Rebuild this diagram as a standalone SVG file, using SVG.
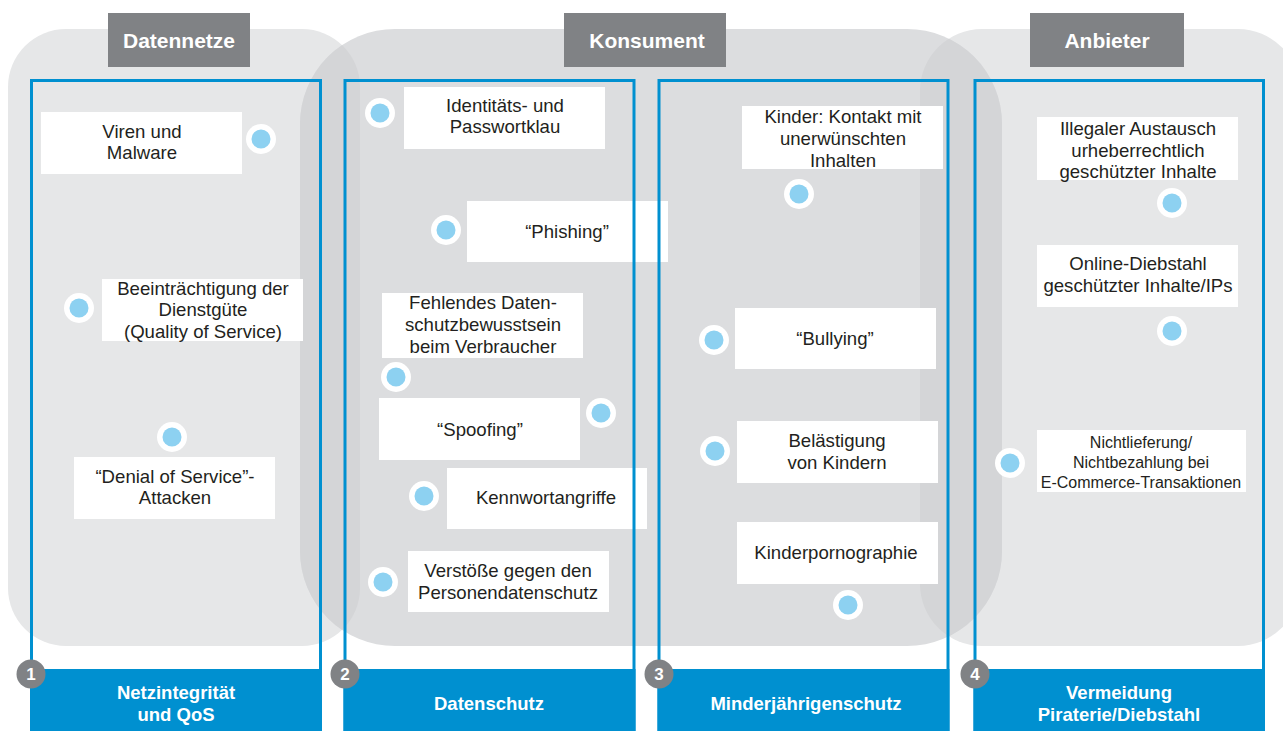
<svg xmlns="http://www.w3.org/2000/svg" width="1283" height="731" viewBox="0 0 1283 731">
<style>
.t{font-family:"Liberation Sans",Arial,sans-serif;font-size:18.6px;fill:#231f20;text-anchor:middle}
.ts{font-family:"Liberation Sans",Arial,sans-serif;font-size:16px;fill:#231f20;text-anchor:middle}
.h{font-family:"Liberation Sans",Arial,sans-serif;font-size:21px;font-weight:bold;fill:#ffffff;text-anchor:middle}
.b{font-family:"Liberation Sans",Arial,sans-serif;font-size:18.5px;font-weight:bold;fill:#ffffff;text-anchor:middle}
.n{font-family:"Liberation Sans",Arial,sans-serif;font-size:17px;font-weight:bold;fill:#ffffff;text-anchor:middle}
.box{fill:#ffffff}
.frame{fill:none;stroke:#0090d0;stroke-width:3}
.band{fill:#0090d0}
.hdr{fill:#808285}
.num{fill:#808285}
</style>
<defs>
<rect id="shapeD" x="8" y="29" width="352" height="617" rx="58" ry="58"/>
<rect id="shapeK" x="300" y="29" width="702" height="617" rx="95" ry="95"/>
<rect id="shapeA" x="920" y="29" width="380" height="617" rx="62" ry="62"/>
<clipPath id="clipD"><use href="#shapeD"/></clipPath>
<clipPath id="clipA"><use href="#shapeA"/></clipPath>
<g id="dot"><circle r="15" fill="#ffffff"/><circle r="9.5" fill="#8dd1f1"/></g>
</defs>

<g id="background">
<use href="#shapeD" fill="#e6e7e8"/>
<use href="#shapeA" fill="#e6e7e8"/>
<use href="#shapeK" fill="#dcdddf"/>
<use href="#shapeK" fill="#d4d5d7" clip-path="url(#clipD)"/>
<use href="#shapeK" fill="#d4d5d7" clip-path="url(#clipA)"/>
</g>

<g id="headers">
<g id="hdr-datennetze"><rect class="hdr" x="108" y="13" width="142" height="54"/><text class="h" x="179" y="47.5">Datennetze</text></g>
<g id="hdr-konsument"><rect class="hdr" x="564" y="13" width="162" height="54"/><text class="h" x="647" y="47.5">Konsument</text></g>
<g id="hdr-anbieter"><rect class="hdr" x="1030" y="13" width="154" height="54"/><text class="h" x="1107" y="47.5">Anbieter</text></g>
</g>

<g id="items">
<g id="n-viren"><rect class="box" x="41" y="112" width="201" height="62"/><text class="t" x="142" y="138">Viren und</text><text class="t" x="142" y="159">Malware</text><use href="#dot" x="261" y="139"/></g>
<g id="n-qos"><rect class="box" x="102" y="279" width="201" height="62"/><text class="t" x="203" y="295">Beeinträchtigung der</text><text class="t" x="203" y="316">Dienstgüte</text><text class="t" x="203" y="338">(Quality of Service)</text><use href="#dot" x="79" y="308"/></g>
<g id="n-dos"><rect class="box" x="74" y="457" width="201" height="62"/><text class="t" x="175" y="483">“Denial of Service”-</text><text class="t" x="175" y="504">Attacken</text><use href="#dot" x="172" y="437"/></g>

<g id="n-ident"><rect class="box" x="404" y="87" width="201" height="62"/><text class="t" x="505" y="112">Identitäts- und</text><text class="t" x="505" y="133">Passwortklau</text><use href="#dot" x="380" y="113"/></g>
<g id="n-phishing"><rect class="box" x="467" y="201" width="201" height="61"/><text class="t" x="567" y="238">“Phishing”</text><use href="#dot" x="446" y="230"/></g>
<g id="n-fehlend"><rect class="box" x="382" y="293" width="201" height="65"/><text class="t" x="483" y="309">Fehlendes Daten-</text><text class="t" x="483" y="331">schutzbewusstsein</text><text class="t" x="483" y="353">beim Verbraucher</text><use href="#dot" x="396" y="377"/></g>
<g id="n-spoofing"><rect class="box" x="379" y="398" width="201" height="62"/><text class="t" x="480" y="436">“Spoofing”</text><use href="#dot" x="601" y="413"/></g>
<g id="n-kennwort"><rect class="box" x="447" y="468" width="200" height="61"/><text class="t" x="546" y="504">Kennwortangriffe</text><use href="#dot" x="424" y="496"/></g>
<g id="n-verstoss"><rect class="box" x="408" y="551" width="201" height="61"/><text class="t" x="508" y="577">Verstöße gegen den</text><text class="t" x="508" y="599">Personendatenschutz</text><use href="#dot" x="383" y="582"/></g>

<g id="n-kontakt"><rect class="box" x="742" y="106" width="201" height="63"/><text class="t" x="843" y="123">Kinder: Kontakt mit</text><text class="t" x="843" y="145">unerwünschten</text><text class="t" x="843" y="167">Inhalten</text><use href="#dot" x="799" y="194"/></g>
<g id="n-bullying"><rect class="box" x="735" y="308" width="201" height="61"/><text class="t" x="835" y="345">“Bullying”</text><use href="#dot" x="714" y="340"/></g>
<g id="n-belaest"><rect class="box" x="737" y="421" width="201" height="62"/><text class="t" x="837" y="447">Belästigung</text><text class="t" x="837" y="469">von Kindern</text><use href="#dot" x="715" y="451"/></g>
<g id="n-kinderporno"><rect class="box" x="737" y="522" width="201" height="62"/><text class="t" x="836" y="559">Kinderpornographie</text><use href="#dot" x="848" y="605"/></g>

<g id="n-illegal"><rect class="box" x="1037" y="117" width="201" height="63"/><text class="t" x="1138" y="135">Illegaler Austausch</text><text class="t" x="1138" y="157">urheberrechtlich</text><text class="t" x="1138" y="178">geschützter Inhalte</text><use href="#dot" x="1172" y="203"/></g>
<g id="n-online"><rect class="box" x="1037" y="245" width="201" height="62"/><text class="t" x="1138" y="270">Online-Diebstahl</text><text class="t" x="1138" y="292">geschützter Inhalte/IPs</text><use href="#dot" x="1172" y="331"/></g>
<g id="n-nichtlief"><rect class="box" x="1037" y="430" width="209" height="62"/><text class="ts" x="1141" y="448">Nichtlieferung/</text><text class="ts" x="1141" y="468">Nichtbezahlung bei</text><text class="ts" x="1141" y="488">E-Commerce-Transaktionen</text><use href="#dot" x="1010" y="463"/></g>
</g>

<g id="columns">
<g id="col1"><rect class="frame" x="31.5" y="80.5" width="289" height="650"/><rect class="band" x="30" y="669" width="292" height="62"/><text class="b" x="176" y="699">Netzintegrität</text><text class="b" x="176" y="721">und QoS</text><circle class="num" cx="31" cy="674" r="14.5"/><text class="n" x="31" y="680">1</text></g>
<g id="col2"><rect class="frame" x="345" y="80.5" width="289" height="650"/><rect class="band" x="343.5" y="669" width="292" height="62"/><text class="b" x="489" y="710">Datenschutz</text><circle class="num" cx="345" cy="674" r="14.5"/><text class="n" x="345" y="680">2</text></g>
<g id="col3"><rect class="frame" x="659" y="80.5" width="289" height="650"/><rect class="band" x="657.5" y="669" width="292" height="62"/><text class="b" x="806" y="710">Minderjährigenschutz</text><circle class="num" cx="659" cy="674" r="14.5"/><text class="n" x="659" y="680">3</text></g>
<g id="col4"><rect class="frame" x="975" y="80.5" width="288.5" height="650"/><rect class="band" x="973.5" y="669" width="291.5" height="62"/><text class="b" x="1119" y="699">Vermeidung</text><text class="b" x="1119" y="721">Piraterie/Diebstahl</text><circle class="num" cx="975" cy="674" r="14.5"/><text class="n" x="975" y="680">4</text></g>
</g>
</svg>
